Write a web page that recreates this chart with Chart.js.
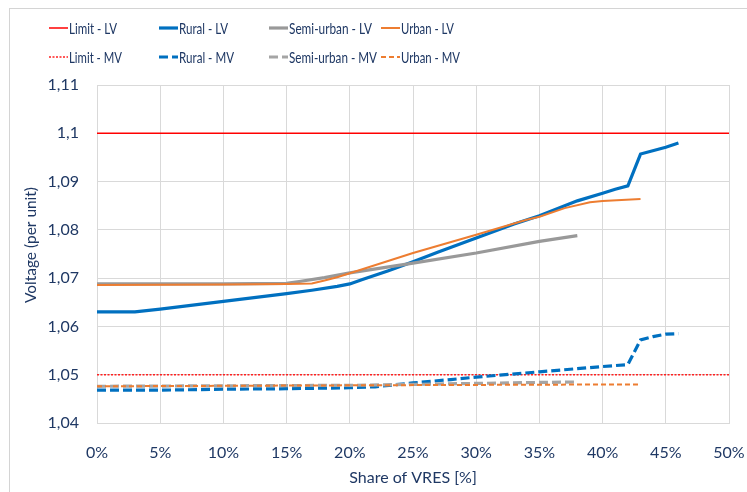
<!DOCTYPE html>
<html><head><meta charset="utf-8">
<script src="https://cdn.jsdelivr.net/npm/chart.js@4/dist/chart.umd.min.js"></script>
<style>
html,body{margin:0;padding:0;background:#fff;overflow:hidden;width:747px;height:492px}
#frame{position:absolute;left:9px;top:8px;width:800px;height:600px;border:1px solid #d4d4d4;box-sizing:border-box}
#wrap{position:absolute;left:0;top:0;width:747px;height:492px}
</style></head><body>
<div id="frame"></div>
<div id="wrap"><canvas id="c" width="747" height="492"></canvas></div>
<script>
// ---- data (share of VRES in %, voltage in p.u.) ----
const seriesNames = ['Limit - LV','Rural - LV','Semi-urban - LV','Urban - LV','Limit - MV','Rural - MV','Semi-urban - MV','Urban - MV'];
const xTickValues = [0,5,10,15,20,25,30,35,40,45,50];
const yTickValues = [1.04,1.05,1.06,1.07,1.08,1.09,1.10,1.11];
const xTitle = 'Share of VRES [%]';
const yTitle = 'Voltage (per unit)';

const xLimit = [0, 50];
const limitLV = [1.10, 1.10];
const limitMV = [1.05, 1.05];

const xRuralLV = [0,3,5,10,15,17,19,20,21,23,25,27,30,33,35,38,40,41,42,43,45,46];
const ruralLV  = [1.0630,1.0630,1.0636,1.0652,1.0668,1.0675,1.0683,1.0688,1.0697,1.0715,1.0734,1.0754,1.0783,1.0812,1.0829,1.0860,1.0876,1.0884,1.0891,1.0957,1.0971,1.0980];

const xSemiLV = [0,10,15,16,18,20,25,30,35,38];
const semiLV  = [1.0688,1.0688,1.0689,1.0693,1.0701,1.0711,1.0731,1.0752,1.0776,1.0788];

const xUrbanLV = [0,10,15,17,18,19,20,25,30,34,35,37,39,40,43];
const urbanLV  = [1.0686,1.0687,1.0688,1.0689,1.0695,1.0702,1.0710,1.0752,1.0790,1.0821,1.0827,1.0845,1.0857,1.0860,1.0864];

const xRuralMV = [0,5,10,15,20,22,25,28,30,35,40,42,43,44,45,46];
const ruralMV  = [1.0468,1.0468,1.0470,1.0471,1.0473,1.0475,1.0483,1.0490,1.0495,1.0506,1.0517,1.0521,1.0572,1.0579,1.0584,1.0585];

const xSemiMV = [0,20,25,30,35,38];
const semiMV  = [1.0476,1.0478,1.0480,1.0482,1.0484,1.0485];

const xUrbanMV = [0,20,43];
const urbanMV  = [1.0476,1.0478,1.0480];

const pts = (xs, ys) => xs.map((x, i) => ({x: x, y: ys[i]}));

const TXT = '#1F3864';
const FONT = 'Lato, "Open Sans", sans-serif';

const styles = [
  {c:'#FF0000', w:1.5, d:[]},
  {c:'#0070C0', w:3.2, d:[]},
  {c:'#999999', w:3.2, d:[]},
  {c:'#ED7D31', w:2,   d:[]},
  {c:'#FF2020', w:1.6, d:[2,1.5]},
  {c:'#0070C0', w:3.2, d:[9,4]},
  {c:'#A5A5A5', w:3.2, d:[9,4]},
  {c:'#ED7D31', w:2,   d:[5,3]}
];
const seriesData = [
  pts(xLimit, limitLV), pts(xRuralLV, ruralLV), pts(xSemiLV, semiLV), pts(xUrbanLV, urbanLV),
  pts(xLimit, limitMV), pts(xRuralMV, ruralMV), pts(xSemiMV, semiMV), pts(xUrbanMV, urbanMV)
];

const datasets = seriesNames.map((n, i) => ({
  label: n,
  data: seriesData[i],
  borderColor: styles[i].c,
  backgroundColor: styles[i].c,
  borderWidth: styles[i].w,
  borderDash: styles[i].d,
  pointRadius: 0,
  tension: 0,
  fill: false,
  order: 8 - i
}));

const legendPlugin = {
  id: 'customLegend',
  afterDraw(chart) {
    const ctx = chart.ctx;
    const colX = [49, 159, 269, 381];
    const rowY = [28, 57];
    const widths = [48, 49, 83, 53, 53, 55, 88, 59];
    ctx.save();
    chart.data.datasets.forEach((ds, i) => {
      const c = i % 4, r = Math.floor(i / 4);
      const x = colX[c], y = rowY[r];
      ctx.beginPath();
      ctx.strokeStyle = ds.borderColor;
      ctx.lineWidth = ds.borderWidth;
      ctx.setLineDash(ds.borderDash || []);
      ctx.moveTo(x, y);
      ctx.lineTo(x + 19, y);
      ctx.stroke();
      ctx.setLineDash([]);
      ctx.fillStyle = TXT;
      ctx.font = '16px ' + FONT;
      ctx.textBaseline = 'middle';
      ctx.textAlign = 'left';
      ctx.fillText(ds.label, x + 20, y + 1, widths[i]);
    });
    // y-axis title
    ctx.translate(31, 245);
    ctx.rotate(-Math.PI / 2);
    ctx.font = '16px ' + FONT;
    ctx.textAlign = 'center';
    ctx.textBaseline = 'middle';
    ctx.fillStyle = TXT;
    ctx.fillText(yTitle, 0, 0, 116);
    ctx.restore();
  }
};

new Chart(document.getElementById('c'), {
  type: 'line',
  data: { datasets: datasets },
  plugins: [legendPlugin],
  options: {
    responsive: false,
    animation: false,
    events: [],
    layout: { padding: { left: 0, right: 18, top: 85, bottom: 0 } },
    plugins: { legend: { display: false }, tooltip: { enabled: false } },
    scales: {
      x: {
        type: 'linear',
        min: 0, max: 50,
        afterFit(s) { s.height = 69; s.paddingLeft = 0; s.paddingRight = 0; },
        afterBuildTicks(s) { s.ticks = xTickValues.map(v => ({value: v})); },
        ticks: {
          color: TXT, font: { family: FONT, size: 16 }, padding: 20,
          maxRotation: 0, autoSkip: false,
          callback: v => v + '%'
        },
        grid: { color: '#D9D9D9', lineWidth: 1, drawTicks: false },
        border: { color: '#D9D9D9' },
        title: { display: true, text: xTitle, color: TXT,
                 font: { family: FONT, size: 16 }, padding: { top: 0, bottom: 5 } }
      },
      y: {
        type: 'linear',
        min: 1.04, max: 1.11,
        afterFit(s) { s.width = 97; s.paddingTop = 0; s.paddingBottom = 0; },
        afterBuildTicks(s) { s.ticks = yTickValues.map(v => ({value: v})); },
        ticks: {
          color: TXT, font: { family: FONT, size: 16 }, padding: 18,
          callback: v => String(Number(v.toFixed(2))).replace('.', ',')
        },
        grid: { color: '#D9D9D9', lineWidth: 1, drawTicks: false },
        border: { color: '#D9D9D9' },
        title: { display: false }
      }
    }
  }
});
</script>
</body></html>
